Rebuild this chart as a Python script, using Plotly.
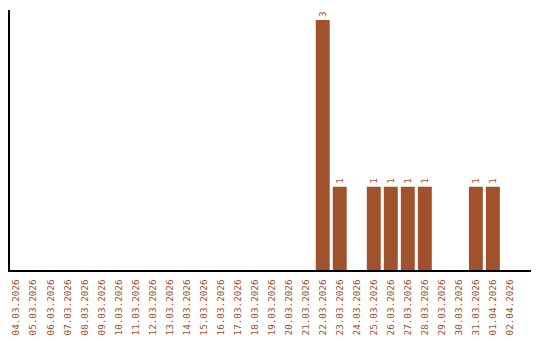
import plotly.graph_objects as go

dates = ["04.03.2026", "05.03.2026", "06.03.2026", "07.03.2026", "08.03.2026",
         "09.03.2026", "10.03.2026", "11.03.2026", "12.03.2026", "13.03.2026",
         "14.03.2026", "15.03.2026", "16.03.2026", "17.03.2026", "18.03.2026",
         "19.03.2026", "20.03.2026", "21.03.2026", "22.03.2026", "23.03.2026",
         "24.03.2026", "25.03.2026", "26.03.2026", "27.03.2026", "28.03.2026",
         "29.03.2026", "30.03.2026", "31.03.2026", "01.04.2026", "02.04.2026"]
counts = [0, 0, 0, 0, 0, 0, 0, 0, 0, 0, 0, 0, 0, 0, 0, 0, 0, 0,
          3, 1, 0, 1, 1, 1, 1, 0, 0, 1, 1, 0]

color = "#A0522D"
font_family = "DejaVu Sans Mono, Liberation Mono, monospace"

labels = [str(v) if v > 0 else "" for v in counts]

fig = go.Figure(go.Bar(
    x=dates, y=counts, marker=dict(color=color, line=dict(width=0)),
    text=labels, textposition="outside", textangle=-90,
    textfont=dict(family=font_family, size=9.3, color=color),
    cliponaxis=False, hoverinfo="skip",
))

fig.update_layout(
    width=540, height=340,
    margin=dict(l=10, r=9, t=10, b=70),
    paper_bgcolor="white", plot_bgcolor="white",
    bargap=0.18, showlegend=False,
    font=dict(family=font_family, size=9.3, color=color),
)
fig.update_xaxes(
    type="category", range=[-0.38, 30.24], automargin=False,
    showline=True, linecolor="black", linewidth=1.5,
    showgrid=False, zeroline=False, ticks="outside", ticklen=4,
    tickcolor="rgba(0,0,0,0)", tickangle=-90,
    tickfont=dict(family=font_family, size=9.3, color=color),
)
fig.update_yaxes(
    range=[0, 3.12], automargin=False,
    showline=True, linecolor="black", linewidth=1.5,
    showgrid=False, zeroline=False, showticklabels=False, ticks="",
)

fig.write_html("out.html")
